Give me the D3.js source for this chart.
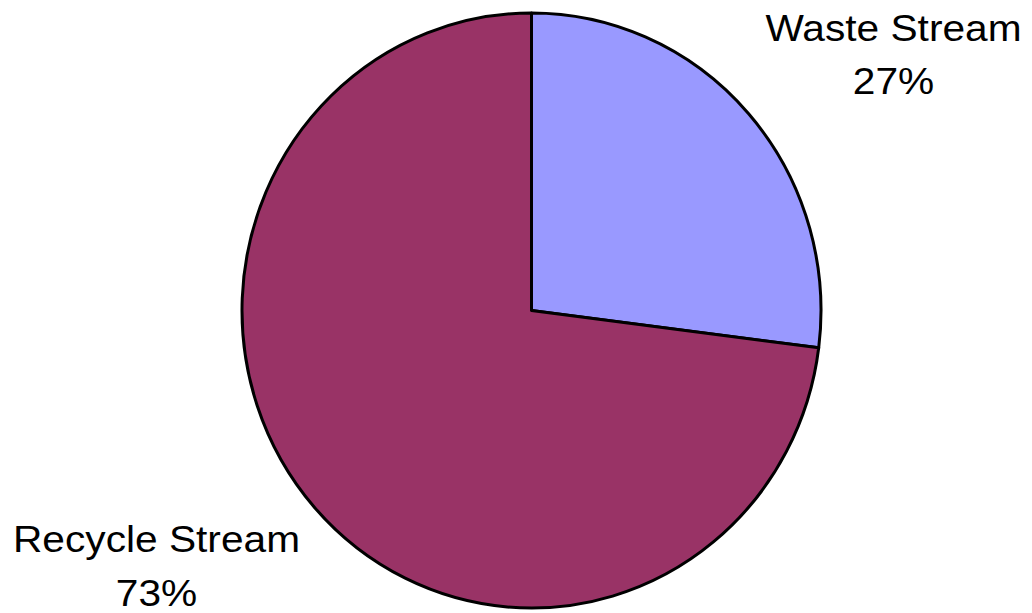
<!DOCTYPE html>
<html>
<head>
<meta charset="utf-8">
<script src="https://cdn.jsdelivr.net/npm/d3@7"></script>
<style>
  body { margin: 0; background: #fff; }
  text { font-family: "Liberation Sans", Arial, sans-serif; fill: #000; }
</style>
</head>
<body>
<div id="chart"></div>
<script>
// Slice data, clockwise from 12 o'clock
const categories = ["Waste Stream", "Recycle Stream"];
const values = [27, 73];
const colors = ["#9999FF", "#993366"];

const w = 1032, h = 613;
const cx = 531.5, cy = 310.5;
const rx = 289.5, ry = 297.5; // pie is drawn slightly taller than wide

let svg = d3.select("#chart").append("svg")
  .attr("width", w)
  .attr("height", h);

let pie = d3.pie().sort(null).value(d => d.value);
let arc = d3.arc().innerRadius(0).outerRadius(ry);

let data = categories.map((c, i) => ({ name: c, value: values[i], color: colors[i] }));
let arcs = pie(data);

let g = svg.append("g")
  .attr("transform", "translate(" + cx + "," + cy + ") scale(" + (rx / ry) + ",1)");

g.selectAll("path").data(arcs).enter().append("path")
  .attr("d", arc)
  .attr("fill", d => d.data.color)
  .attr("stroke", "#000")
  .attr("stroke-width", 3)
  .attr("stroke-linejoin", "round")
  .attr("vector-effect", "non-scaling-stroke");

// Labels sit outside the pie, text a bit wide like the original
const labelPos = [[893.5, 40.5], [156.5, 552]];
const lineGap = 54;
const fmt = d3.format(".0%");
let total = d3.sum(values);

arcs.forEach((d, i) => {
  let lg = svg.append("g")
    .attr("transform", "translate(" + labelPos[i][0] + "," + labelPos[i][1] + ") scale(1.13,1)");
  lg.append("text")
    .attr("text-anchor", "middle")
    .attr("font-size", 36)
    .text(d.data.name);
  lg.append("text")
    .attr("y", lineGap)
    .attr("text-anchor", "middle")
    .attr("font-size", 36)
    .text(fmt(d.data.value / total));
});
</script>
</body>
</html>
